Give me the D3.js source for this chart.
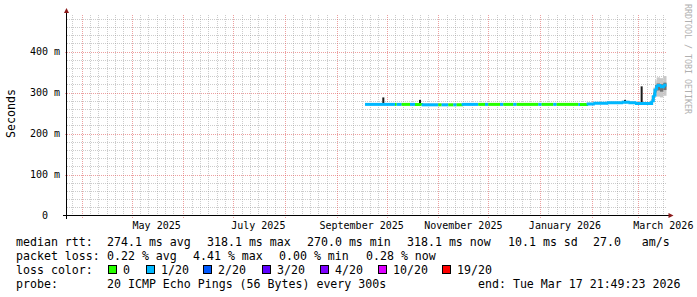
<!DOCTYPE html>
<meta charset="utf-8">
<script src="https://d3js.org/d3.v7.min.js"></script>
<style>
  body { margin: 0; background: #fff; }
  svg text { font-family: "DejaVu Sans Mono", monospace; white-space: pre; }
</style>

<div id="chart"></div>

<script>
  // ---- data ----
  const endTime = "2026-03-17T21:49:23";
  const spanDays = 360;

  const yTicks = [0, 100, 200, 300, 400];
  const yTickLabels = ["0  ", "100 m", "200 m", "300 m", "400 m"];

  const xLabelMonths = ["2025-05-01", "2025-07-01", "2025-09-01", "2025-11-01", "2026-01-01", "2026-03-01"];
  const xLabels = ["May 2025", "July 2025", "September 2025", "November 2025", "January 2026", "March 2026"];

  // median rtt, one value per run (run lasts until next start)
  const runStart = [
    "2025-09-18", "2025-10-06", "2025-10-07", "2025-10-10", "2025-10-15", "2025-10-18",
    "2025-10-22", "2025-11-01", "2025-11-03", "2025-11-07", "2025-11-10", "2025-11-12",
    "2025-11-15", "2025-11-25", "2025-11-29", "2025-12-01", "2025-12-08", "2025-12-10",
    "2025-12-16", "2025-12-18", "2025-12-31", "2026-01-02", "2026-01-09", "2026-01-11",
    "2026-01-24", "2026-01-25", "2026-01-29", "2026-02-02", "2026-02-10", "2026-02-19",
    "2026-02-23", "2026-02-27", "2026-03-09", "2026-03-10", "2026-03-11", "2026-03-12",
    "2026-03-14", "2026-03-16"
  ];
  const runMedian = [
    271, 271, 271, 271, 271, 271,
    270, 270, 270, 270, 270, 270,
    271, 271, 271, 271, 271, 271,
    271, 271, 271, 271, 271, 271,
    271, 271, 272, 274, 275, 276,
    275, 273, 280, 293, 309, 317,
    314, 318
  ];
  // lost pings out of 20
  const runLoss = [
    1, 0, 1, 0, 1, 0,
    1, 0, 1, 0, 1, 0,
    1, 0, 1, 0, 1, 0,
    1, 0, 1, 0, 1, 0,
    1, 0, 1, 1, 1, 1,
    1, 1, 1, 1, 1, 1,
    1, 1
  ];
  // smoke: spread of the 20 pings
  const smokeLo = [
    270, 270, 270, 270, 270, 270,
    269, 269, 269, 269, 269, 269,
    270, 270, 270, 270, 270, 270,
    270, 270, 270, 270, 270, 270,
    270, 270, 271, 272, 273, 274,
    273, 271, 276, 282, 292, 290,
    288, 292
  ];
  const smokeQ1 = [
    271, 271, 271, 271, 271, 271,
    270, 270, 270, 270, 270, 270,
    271, 271, 271, 271, 271, 271,
    271, 271, 271, 271, 271, 271,
    271, 271, 272, 273, 274, 275,
    274, 272, 278, 287, 300, 305,
    302, 306
  ];
  const smokeQ3 = [
    272, 272, 272, 272, 272, 272,
    271, 271, 271, 271, 271, 271,
    272, 272, 272, 272, 272, 272,
    272, 272, 272, 272, 272, 272,
    272, 272, 273, 275, 276, 277,
    276, 274, 284, 300, 318, 322,
    320, 324
  ];
  const smokeHi = [
    274, 274, 274, 274, 274, 274,
    273, 273, 273, 273, 273, 273,
    274, 274, 274, 274, 274, 274,
    274, 274, 274, 274, 274, 274,
    274, 274, 275, 277, 278, 280,
    279, 277, 292, 312, 330, 337,
    335, 340
  ];

  // single-sample spikes
  const spikeTimes = ["2025-09-29", "2025-10-21", "2026-02-21", "2026-03-03"];
  const spikeBase = [271, 271, 275, 273];
  const spikeTop = [288, 282, 282, 315];

  const lossLevels = ["0", "1/20", "2/20", "3/20", "4/20", "10/20", "19/20"];
  const lossMin = [0, 1, 2, 3, 4, 10, 19];
  const lossColors = ["#26ff00", "#00b8ff", "#0059ff", "#5e00ff", "#7e00ff", "#dd00ff", "#ff0000"];

  const legendRow1 = ["median rtt:", "274.1 ms avg", "318.1 ms max", "270.0 ms min", "318.1 ms now", "10.1 ms sd", "27.0   am/s"];
  const legendRow2 = ["packet loss:", "0.22 % avg", "4.41 % max", "0.00 % min", "0.28 % now"];
  const legendRow4 = ["probe:", "20 ICMP Echo Pings (56 Bytes) every 300s", "end: Tue Mar 17 21:49:23 2026"];

  // ---- layout ----
  const W = 697, H = 297;
  const plot = { left: 66.5, right: 666.5, top: 14, bottom: 215.5 };
  const row1X = [16, 107, 207, 307, 407, 508, 593];
  const row2X = [16, 107, 193, 279, 366];
  const row4X = [16, 107, 478];
  const swatchX = [108, 146, 203, 262, 320, 378, 442];
  const rowY = [245.5, 259.5, 273.5, 287.5];

  const parseTime = d3.utcParse("%Y-%m-%dT%H:%M:%S");
  const parseDay = d3.utcParse("%Y-%m-%d");
  const end = parseTime(endTime);
  const start = d3.utcDay.offset(end, -spanDays);

  const svg = d3.select("#chart")
    .append("svg")
    .attr("width", W)
    .attr("height", H);

  svg.append("rect").attr("width", W).attr("height", H).attr("fill", "#fff");

  const x = d3.scaleUtc()
    .domain([start, end])
    .range([plot.left, plot.right]);

  const y = d3.scaleLinear()
    .domain([0, (plot.bottom - plot.top) / 0.41])
    .range([plot.bottom, plot.top]);

  // ---- grid ----
  const grid = svg.append("g").attr("shape-rendering", "crispEdges");

  const minorDays = d3.utcDay.every(5).range(start, end)
    .filter(d => d.getUTCDate() !== 1 && d.getUTCDate() !== 31);
  grid.selectAll(".vminor")
    .data(minorDays)
    .enter()
    .append("line")
    .attr("x1", d => Math.round(x(d)) + 0.5)
    .attr("x2", d => Math.round(x(d)) + 0.5)
    .attr("y1", plot.bottom)
    .attr("y2", plot.top)
    .attr("stroke", "#8f8f8f")
    .attr("stroke-opacity", 0.45)
    .attr("stroke-dasharray", "1,1");

  const minorMs = d3.range(20, 481, 20).filter(v => v % 100 !== 0);
  grid.selectAll(".hminor")
    .data(minorMs)
    .enter()
    .append("line")
    .attr("x1", plot.left)
    .attr("x2", plot.right)
    .attr("y1", d => Math.round(y(d)) + 0.5)
    .attr("y2", d => Math.round(y(d)) + 0.5)
    .attr("stroke", "#8f8f8f")
    .attr("stroke-opacity", 0.45)
    .attr("stroke-dasharray", "1,1");

  const months = d3.utcMonth.range(start, end);
  grid.selectAll(".vmajor")
    .data(months)
    .enter()
    .append("line")
    .attr("x1", d => Math.round(x(d)) + 0.5)
    .attr("x2", d => Math.round(x(d)) + 0.5)
    .attr("y1", plot.bottom + 2)
    .attr("y2", plot.top)
    .attr("stroke", "#de5050")
    .attr("stroke-opacity", 0.55)
    .attr("stroke-dasharray", "1,1");

  grid.selectAll(".hmajor")
    .data(yTicks.slice(1))
    .enter()
    .append("line")
    .attr("x1", plot.left - 2)
    .attr("x2", plot.right)
    .attr("y1", d => Math.round(y(d)) + 0.5)
    .attr("y2", d => Math.round(y(d)) + 0.5)
    .attr("stroke", "#de5050")
    .attr("stroke-opacity", 0.55)
    .attr("stroke-dasharray", "1,1");

  // ---- smoke ----
  const runs = runStart.map((s, i) => ({
    t0: parseDay(s),
    t1: i < runStart.length - 1 ? parseDay(runStart[i + 1]) : end,
    med: runMedian[i],
    loss: runLoss[i],
    lo: smokeLo[i], q1: smokeQ1[i], q3: smokeQ3[i], hi: smokeHi[i]
  }));

  svg.selectAll(".smokeOuter")
    .data(runs)
    .enter()
    .append("rect")
    .attr("x", d => x(d.t0))
    .attr("width", d => x(d.t1) - x(d.t0))
    .attr("y", d => y(d.hi))
    .attr("height", d => y(d.lo) - y(d.hi))
    .attr("fill", "#c8c8c8");

  svg.selectAll(".smokeInner")
    .data(runs)
    .enter()
    .append("rect")
    .attr("x", d => x(d.t0))
    .attr("width", d => x(d.t1) - x(d.t0))
    .attr("y", d => y(d.q3))
    .attr("height", d => y(d.q1) - y(d.q3))
    .attr("fill", "#707070");

  // spikes
  svg.selectAll(".spike")
    .data(spikeTimes.map((t, i) => ({ t: parseDay(t), base: spikeBase[i], top: spikeTop[i] })))
    .enter()
    .append("line")
    .attr("x1", d => x(d.t))
    .attr("x2", d => x(d.t))
    .attr("y1", d => y(d.base))
    .attr("y2", d => y(d.top))
    .attr("stroke", "#1a1a1a")
    .attr("stroke-width", 2);

  // ---- median line coloured by loss ----
  const lossColor = l => {
    let c = lossColors[0];
    lossMin.forEach((m, i) => { if (l >= m) c = lossColors[i]; });
    return c;
  };

  const line = d3.line().x(d => x(d[0])).y(d => y(d[1]));

  svg.selectAll(".median")
    .data(runs)
    .enter()
    .append("path")
    .attr("d", (d, i) => {
      const pts = [[d.t0, d.med], [d.t1, d.med]];
      if (i < runs.length - 1) pts.push([d.t1, runs[i + 1].med]);
      return line(pts);
    })
    .attr("fill", "none")
    .attr("stroke", d => lossColor(d.loss))
    .attr("stroke-width", 3);

  // ---- axes ----
  const axis = svg.append("g").attr("shape-rendering", "crispEdges");
  axis.append("line")
    .attr("x1", plot.left - 4).attr("x2", plot.right + 2)
    .attr("y1", plot.bottom).attr("y2", plot.bottom)
    .attr("stroke", "#000");
  axis.append("line")
    .attr("x1", plot.left).attr("x2", plot.left)
    .attr("y1", plot.bottom + 3).attr("y2", plot.top - 2)
    .attr("stroke", "#000");

  svg.append("path")
    .attr("d", `M${plot.right + 2},${plot.bottom - 2.5}L${plot.right + 7},${plot.bottom}L${plot.right + 2},${plot.bottom + 2.5}Z`)
    .attr("fill", "#8b1a1a");
  svg.append("path")
    .attr("d", `M${plot.left - 2.5},${plot.top - 1}L${plot.left},${plot.top - 6}L${plot.left + 2.5},${plot.top - 1}Z`)
    .attr("fill", "#8b1a1a");

  // y tick labels
  svg.selectAll(".ylab")
    .data(yTicks)
    .enter()
    .append("text")
    .attr("x", 60)
    .attr("y", d => y(d) + 3.5)
    .attr("text-anchor", "end")
    .style("font-size", "10px")
    .text((d, i) => yTickLabels[i]);

  // x labels, centred mid-month like rrdtool
  svg.selectAll(".xlab")
    .data(xLabelMonths)
    .enter()
    .append("text")
    .attr("x", d => x(d3.utcDay.offset(parseDay(d), 15)))
    .attr("y", 228.5)
    .attr("text-anchor", "middle")
    .style("font-size", "10px")
    .text((d, i) => xLabels[i]);

  // y title
  svg.append("text")
    .attr("transform", "translate(15,113.5) rotate(-90)")
    .attr("text-anchor", "middle")
    .style("font-size", "11.6px")
    .text("Seconds");

  // watermark
  svg.append("text")
    .attr("transform", "translate(684.5,4) rotate(90)")
    .style("font-size", "8.3px")
    .attr("fill", "#b0b0b0")
    .text("RRDTOOL / TOBI OETIKER");

  // ---- legend ----
  const legend = svg.append("g").style("font-size", "11.6px").attr("fill", "#000");

  legend.selectAll(".r1").data(legendRow1).enter().append("text")
    .attr("x", (d, i) => row1X[i]).attr("y", rowY[0]).text(d => d);
  legend.selectAll(".r2").data(legendRow2).enter().append("text")
    .attr("x", (d, i) => row2X[i]).attr("y", rowY[1]).text(d => d);

  legend.append("text").attr("x", 16).attr("y", rowY[2]).text("loss color:");
  legend.selectAll(".sw").data(lossLevels).enter().append("rect")
    .attr("x", (d, i) => swatchX[i] + 0.5)
    .attr("y", rowY[2] - 8.5)
    .attr("width", 8)
    .attr("height", 8)
    .attr("fill", (d, i) => lossColors[i])
    .attr("stroke", "#000")
    .attr("shape-rendering", "crispEdges");
  legend.selectAll(".swl").data(lossLevels).enter().append("text")
    .attr("x", (d, i) => swatchX[i] + 15)
    .attr("y", rowY[2]).text(d => d);

  legend.selectAll(".r4").data(legendRow4).enter().append("text")
    .attr("x", (d, i) => row4X[i]).attr("y", rowY[3]).text(d => d);
</script>
